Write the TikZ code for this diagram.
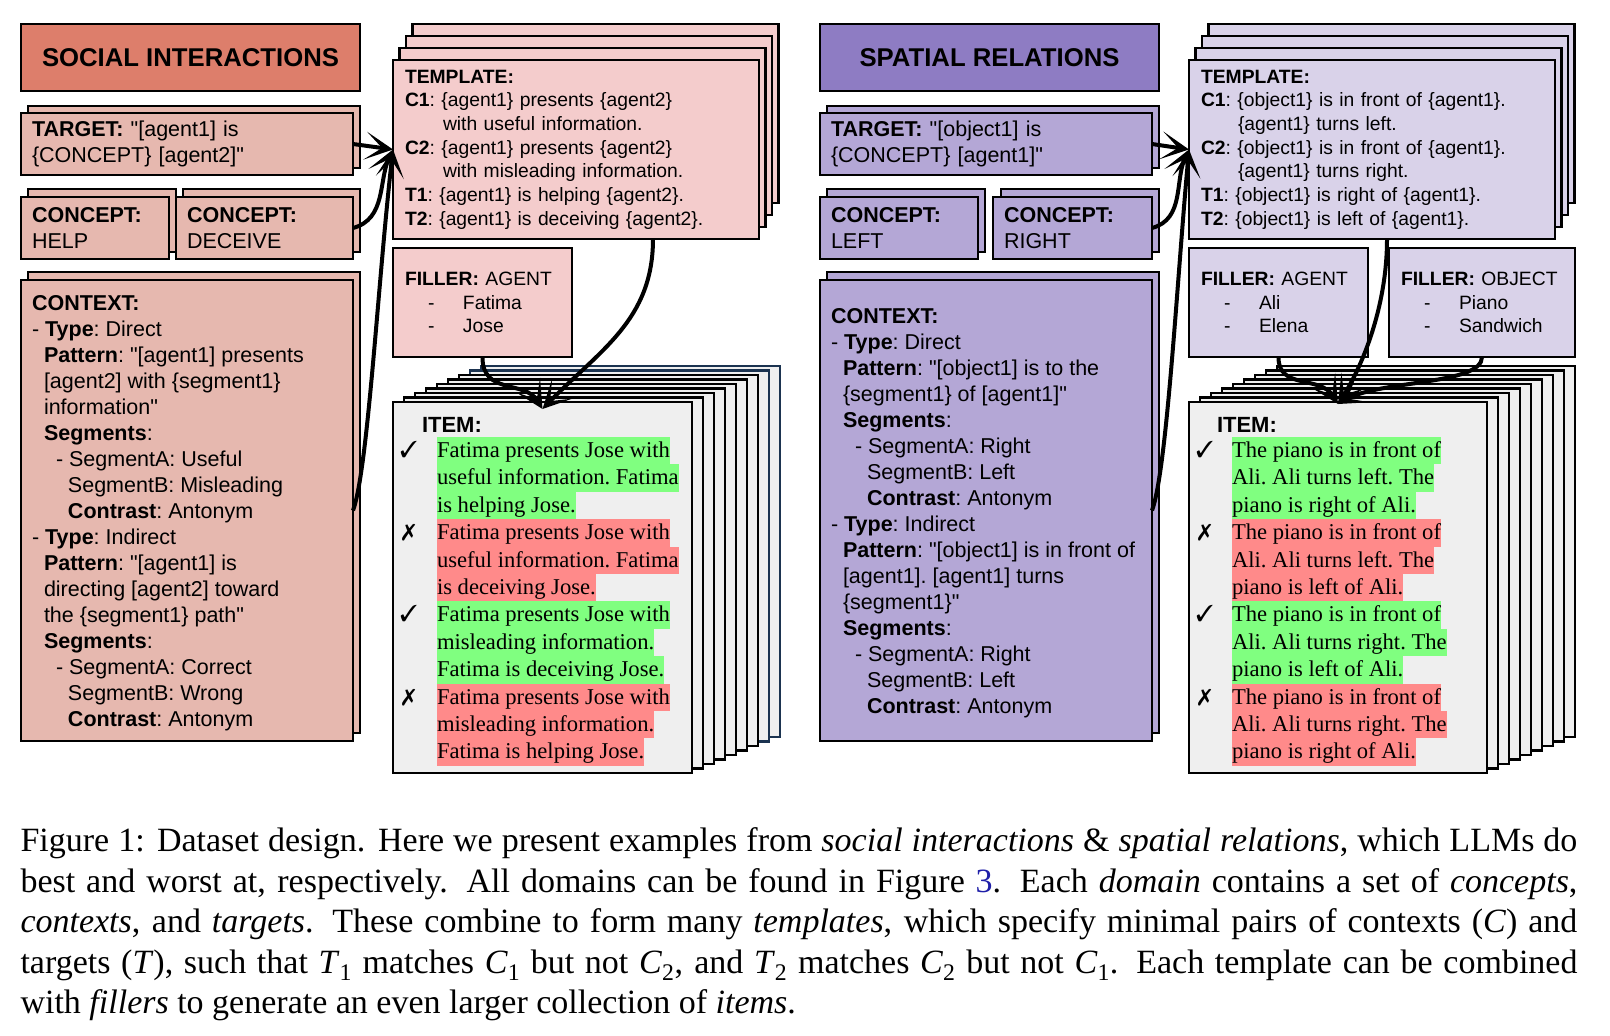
\documentclass[tikz,border=0pt]{standalone}
\usepackage{fontspec}
\setmainfont{Liberation Serif}
\setsansfont{Liberation Sans}
\newfontfamily\plainsans{Liberation Sans}
\usepackage{pifont}
\usetikzlibrary{arrows.meta,positioning}

\definecolor{socialdark}{HTML}{DD7E6B}
\definecolor{socialmid}{HTML}{E6B8AF}
\definecolor{sociallight}{HTML}{F4CCCC}
\definecolor{spatialdark}{HTML}{8E7CC3}
\definecolor{spatialmid}{HTML}{B4A7D6}
\definecolor{spatiallight}{HTML}{D9D2E9}
\definecolor{itemgray}{HTML}{EFEFEF}
\definecolor{okgreen}{HTML}{80FF80}
\definecolor{badred}{HTML}{FF8A8A}
\definecolor{stacknavy}{HTML}{1B3350}
\definecolor{linkblue}{HTML}{1F1FA8}

\newcommand{\boxfont}{\sffamily\frenchspacing\fontsize{21.5}{25.3}\selectfont}
\newcommand{\ctxfont}{\sffamily\frenchspacing\fontsize{21.5}{26}\selectfont}
\newcommand{\tplfont}{\sffamily\frenchspacing\fontsize{19.3}{23.7}\selectfont}
\newcommand{\titlefont}{\sffamily\bfseries\fontsize{25.7}{30}\selectfont}
\newcommand{\itemfont}{\rmfamily\frenchspacing\fontsize{22.6}{27.4}\selectfont}
\newcommand{\hiline}[2]{{\setlength{\fboxsep}{0pt}\colorbox{#1}{\rule[-7pt]{0pt}{27.4pt}#2}}}
\newcommand{\indt}[1]{\hspace*{#1pt}}
\newcommand{\dashitem}[1]{\hspace*{23pt}\makebox[35pt][l]{-}#1}
\newcommand{\dq}{{\plainsans\char34}}
\newcommand{\sym}[2]{\textit{#1}\textsubscript{#2}}

\tikzset{
  card/.style={draw=black, line width=2.6pt, rectangle, inner xsep=11pt, inner ysep=0pt, outer sep=0pt, anchor=north west, align=left, font=\boxfont},
  titlecard/.style={card, align=center, font=\titlefont},
  backcard/.style={draw=black, line width=2.6pt},
  txt/.style={inner sep=0pt, outer sep=0pt, anchor=north west, align=left, font=\ctxfont},
  itemtext/.style={inner sep=0pt, outer sep=0pt, anchor=north west, align=left, font=\itemfont},
  tick/.style={inner sep=0pt, anchor=base west, font=\fontsize{23}{23}\selectfont},
  flow/.style={line width=4pt, -{Stealth[length=28pt,width=28pt,inset=17pt]}},
}

\begin{document}
\begin{tikzpicture}[x=1pt,y=-1pt]
\useasboundingbox (0,0) rectangle (1610,1036);
%-- social interactions
\node[titlecard, fill=socialdark, minimum width=339pt, minimum height=67pt] (sTitle) at (21,24) {SOCIAL INTERACTIONS};
\draw[backcard, fill=socialmid] (28,106) rectangle (360,168);
\node[card, fill=socialmid, minimum width=332pt, minimum height=62pt, text width=310pt] (sTarget) at (21,113) {\textbf{TARGET:} \dq[agent1] is\\\{CONCEPT\} [agent2]\dq};
\draw[backcard, fill=socialmid] (28,189) rectangle (176,252);
\node[card, fill=socialmid, minimum width=148pt, minimum height=62pt, text width=126pt] (sHelp) at (21,197) {\textbf{CONCEPT:}\\HELP};
\draw[backcard, fill=socialmid] (183,189) rectangle (360,252);
\node[card, fill=socialmid, minimum width=177pt, minimum height=62pt, text width=155pt] (sDeceive) at (176,197) {\textbf{CONCEPT:}\\DECEIVE};
\draw[backcard, fill=socialmid] (28,272) rectangle (360,733);
\node[card, fill=socialmid, minimum width=332pt, minimum height=461pt] (sContext) at (21,280) {};
\node[txt] (sContextText) at (32,295) {\textbf{CONTEXT:}\\
- \textbf{Type}: Direct\\
\indt{12}\textbf{Pattern}: \dq[agent1] presents\\
\indt{12}[agent2] with \{segment1\}\\
\indt{12}information\dq\\
\indt{12}\textbf{Segments}:\\
\indt{24}- SegmentA: Useful\\
\indt{36}SegmentB: Misleading\\
\indt{36}\textbf{Contrast}: Antonym\\
- \textbf{Type}: Indirect\\
\indt{12}\textbf{Pattern}: \dq[agent1] is\\
\indt{12}directing [agent2] toward\\
\indt{12}the \{segment1\} path\dq\\
\indt{12}\textbf{Segments}:\\
\indt{24}- SegmentA: Correct\\
\indt{36}SegmentB: Wrong\\
\indt{36}\textbf{Contrast}: Antonym};
%--
\foreach \k in {3,2,1}
  \draw[backcard, fill=sociallight, shift={(6.5*\k,-12*\k)}] (393,60) rectangle (759,239);
\node[card, font=\tplfont, inner xsep=12pt, fill=sociallight, minimum width=366pt, minimum height=179pt, text width=342pt] (sTemplate) at (393,60) {\textbf{TEMPLATE:}\\
\textbf{C1}: \{agent1\} presents \{agent2\}\\
\indt{38}with useful information.\\
\textbf{C2}: \{agent1\} presents \{agent2\}\\
\indt{38}with misleading information.\\
\textbf{T1}: \{agent1\} is helping \{agent2\}.\\
\textbf{T2}: \{agent1\} is deceiving \{agent2\}.};
\node[card, font=\tplfont, inner xsep=12pt, fill=sociallight, minimum width=179pt, minimum height=109pt, text width=155pt] (sFiller) at (393,248) {\textbf{FILLER:} AGENT\\\dashitem{Fatima}\\\dashitem{Jose}};
%--
\foreach \k/\c in {8/stacknavy,7/stacknavy,6/black,5/black,4/black,3/black,2/black,1/black}
  \draw[backcard, draw=\c, fill=itemgray, shift={(11*\k,-4.5*\k)}] (393,402) rectangle (692,773);
\node[card, fill=itemgray, minimum width=299pt, minimum height=371pt] (sItem) at (393,402) {};
\node[txt, anchor=base west, font=\sffamily\bfseries\fontsize{22}{22}\selectfont] (sItemLabel) at (422,432) {ITEM:};
\node[itemtext] (sItemA) at (437,437) {\hiline{okgreen}{Fatima presents Jose with}\\\hiline{okgreen}{useful information. Fatima}\\\hiline{okgreen}{is helping Jose.}};
\node[itemtext, below right=0pt and 0pt of sItemA.south west] (sItemB) {\hiline{badred}{Fatima presents Jose with}\\\hiline{badred}{useful information. Fatima}\\\hiline{badred}{is deceiving Jose.}};
\node[itemtext, below right=0pt and 0pt of sItemB.south west] (sItemC) {\hiline{okgreen}{Fatima presents Jose with}\\\hiline{okgreen}{misleading information.}\\\hiline{okgreen}{Fatima is deceiving Jose.}};
\node[itemtext, below right=0pt and 0pt of sItemC.south west] (sItemD) {\hiline{badred}{Fatima presents Jose with}\\\hiline{badred}{misleading information.}\\\hiline{badred}{Fatima is helping Jose.}};
\node[tick] (sTickA) at ([xshift=-37pt,yshift=-20.4pt]sItemA.north west) {\ding{51}};
\node[tick] (sTickB) at ([xshift=-35pt,yshift=-20.4pt]sItemB.north west) {\ding{55}};
\node[tick] (sTickC) at ([xshift=-37pt,yshift=-20.4pt]sItemC.north west) {\ding{51}};
\node[tick] (sTickD) at ([xshift=-35pt,yshift=-20.4pt]sItemD.north west) {\ding{55}};
%-- spatial relations
\node[titlecard, fill=spatialdark, minimum width=339pt, minimum height=67pt] (rTitle) at (820,24) {SPATIAL RELATIONS};
\draw[backcard, fill=spatialmid] (827,106) rectangle (1159,168);
\node[card, fill=spatialmid, minimum width=332pt, minimum height=62pt, text width=310pt] (rTarget) at (820,113) {\textbf{TARGET:} \dq[object1] is\\\{CONCEPT\} [agent1]\dq};
\draw[backcard, fill=spatialmid] (827,189) rectangle (985,252);
\node[card, fill=spatialmid, minimum width=158pt, minimum height=62pt, text width=136pt] (rLeft) at (820,197) {\textbf{CONCEPT:}\\LEFT};
\draw[backcard, fill=spatialmid] (1001,189) rectangle (1159,252);
\node[card, fill=spatialmid, minimum width=159pt, minimum height=62pt, text width=137pt] (rRight) at (993,197) {\textbf{CONCEPT:}\\RIGHT};
\draw[backcard, fill=spatialmid] (827,272) rectangle (1159,733);
\node[card, fill=spatialmid, minimum width=332pt, minimum height=461pt] (rContext) at (820,280) {};
\node[txt] (rContextText) at (831,308) {\textbf{CONTEXT:}\\
- \textbf{Type}: Direct\\
\indt{12}\textbf{Pattern}: \dq[object1] is to the\\
\indt{12}\{segment1\} of [agent1]\dq\\
\indt{12}\textbf{Segments}:\\
\indt{24}- SegmentA: Right\\
\indt{36}SegmentB: Left\\
\indt{36}\textbf{Contrast}: Antonym\\
- \textbf{Type}: Indirect\\
\indt{12}\textbf{Pattern}: \dq[object1] is in front of\\
\indt{12}[agent1]. [agent1] turns\\
\indt{12}\{segment1\}\dq\\
\indt{12}\textbf{Segments}:\\
\indt{24}- SegmentA: Right\\
\indt{36}SegmentB: Left\\
\indt{36}\textbf{Contrast}: Antonym};
%--
\foreach \k in {3,2,1}
  \draw[backcard, fill=spatiallight, shift={(6.5*\k,-12*\k)}] (1189,60) rectangle (1555,239);
\node[card, font=\tplfont, inner xsep=12pt, fill=spatiallight, minimum width=366pt, minimum height=179pt, text width=342pt] (rTemplate) at (1189,60) {\textbf{TEMPLATE:}\\
\textbf{C1}: \{object1\} is in front of \{agent1\}.\\
\indt{37}\{agent1\} turns left.\\
\textbf{C2}: \{object1\} is in front of \{agent1\}.\\
\indt{37}\{agent1\} turns right.\\
\textbf{T1}: \{object1\} is right of \{agent1\}.\\
\textbf{T2}: \{object1\} is left of \{agent1\}.};
\node[card, font=\tplfont, inner xsep=12pt, fill=spatiallight, minimum width=179pt, minimum height=109pt, text width=155pt] (rFillerA) at (1189,248) {\textbf{FILLER:} AGENT\\\dashitem{Ali}\\\dashitem{Elena}};
\node[card, font=\tplfont, inner xsep=12pt, fill=spatiallight, minimum width=186pt, minimum height=109pt, text width=162pt] (rFillerO) at (1389,248) {\textbf{FILLER:} OBJECT\\\dashitem{Piano}\\\dashitem{Sandwich}};
%--
\foreach \k in {8,...,1}
  \draw[backcard, fill=itemgray, shift={(11*\k,-4.5*\k)}] (1189,402) rectangle (1487,773);
\node[card, fill=itemgray, minimum width=298pt, minimum height=371pt] (rItem) at (1189,402) {};
\node[txt, anchor=base west, font=\sffamily\bfseries\fontsize{22}{22}\selectfont] (rItemLabel) at (1217,432) {ITEM:};
\node[itemtext] (rItemA) at (1232,437) {\hiline{okgreen}{The piano is in front of}\\\hiline{okgreen}{Ali. Ali turns left. The}\\\hiline{okgreen}{piano is right of Ali.}};
\node[itemtext, below right=0pt and 0pt of rItemA.south west] (rItemB) {\hiline{badred}{The piano is in front of}\\\hiline{badred}{Ali. Ali turns left. The}\\\hiline{badred}{piano is left of Ali.}};
\node[itemtext, below right=0pt and 0pt of rItemB.south west] (rItemC) {\hiline{okgreen}{The piano is in front of}\\\hiline{okgreen}{Ali. Ali turns right. The}\\\hiline{okgreen}{piano is left of Ali.}};
\node[itemtext, below right=0pt and 0pt of rItemC.south west] (rItemD) {\hiline{badred}{The piano is in front of}\\\hiline{badred}{Ali. Ali turns right. The}\\\hiline{badred}{piano is right of Ali.}};
\node[tick] (rTickA) at ([xshift=-36pt,yshift=-20.4pt]rItemA.north west) {\ding{51}};
\node[tick] (rTickB) at ([xshift=-34pt,yshift=-20.4pt]rItemB.north west) {\ding{55}};
\node[tick] (rTickC) at ([xshift=-36pt,yshift=-20.4pt]rItemC.north west) {\ding{51}};
\node[tick] (rTickD) at ([xshift=-34pt,yshift=-20.4pt]rItemD.north west) {\ding{55}};
%-- connectors
\draw[flow] (sTarget.east) -- (sTemplate.west);
\draw[flow] (sDeceive.east) to[out=15, in=245] (sTemplate.west);
\draw[flow] (sContext.east) .. controls (368,470) and (378,280) .. (sTemplate.west);
\draw[flow] ([xshift=77pt]sTemplate.south) .. controls (653,320) and (600,350) .. ([yshift=-7pt]sItem.north);
\draw[flow] (sFiller.south) .. controls (482,395) and (525,380) .. ([yshift=-7pt]sItem.north);
%--
\draw[flow] (rTarget.east) -- (rTemplate.west);
\draw[flow] (rRight.east) to[out=15, in=245] (rTemplate.west);
\draw[flow] (rContext.east) .. controls (1167,470) and (1177,280) .. (rTemplate.west);
\draw[flow] ([xshift=15pt]rTemplate.south) .. controls (1387,310) and (1360,370) .. ([yshift=-2pt]rItem.north);
\draw[flow] (rFillerA.south) .. controls (1278,390) and (1320,375) .. ([yshift=-2pt]rItem.north);
\draw[flow] (rFillerO.south) .. controls (1482,385) and (1380,380) .. ([yshift=-2pt]rItem.north);
%-- caption
\node[anchor=north west, inner sep=0pt, outer sep=0pt, text width=1557pt, align=justify, font=\rmfamily\fontsize{34}{40.6}\selectfont] (caption) at (20.5,827.5) {Figure 1: Dataset design. Here we present examples from \emph{social interactions} \& \emph{spatial relations}, which LLMs do best and worst at, respectively.  All domains can be found in Figure \textcolor{linkblue}{3}. Each \emph{domain} contains a set of \emph{concepts}, \emph{contexts}, and \emph{targets}. These combine to form many \emph{templates}, which specify minimal pairs of contexts (\textit{C}) and targets (\textit{T}), such that \sym{T}{1} matches \sym{C}{1} but not \sym{C}{2}, and \sym{T}{2} matches \sym{C}{2} but not \sym{C}{1}. Each template can be combined\linebreak{} with \emph{fillers} to generate an even larger collection of \emph{items}.};
\end{tikzpicture}
\end{document}
